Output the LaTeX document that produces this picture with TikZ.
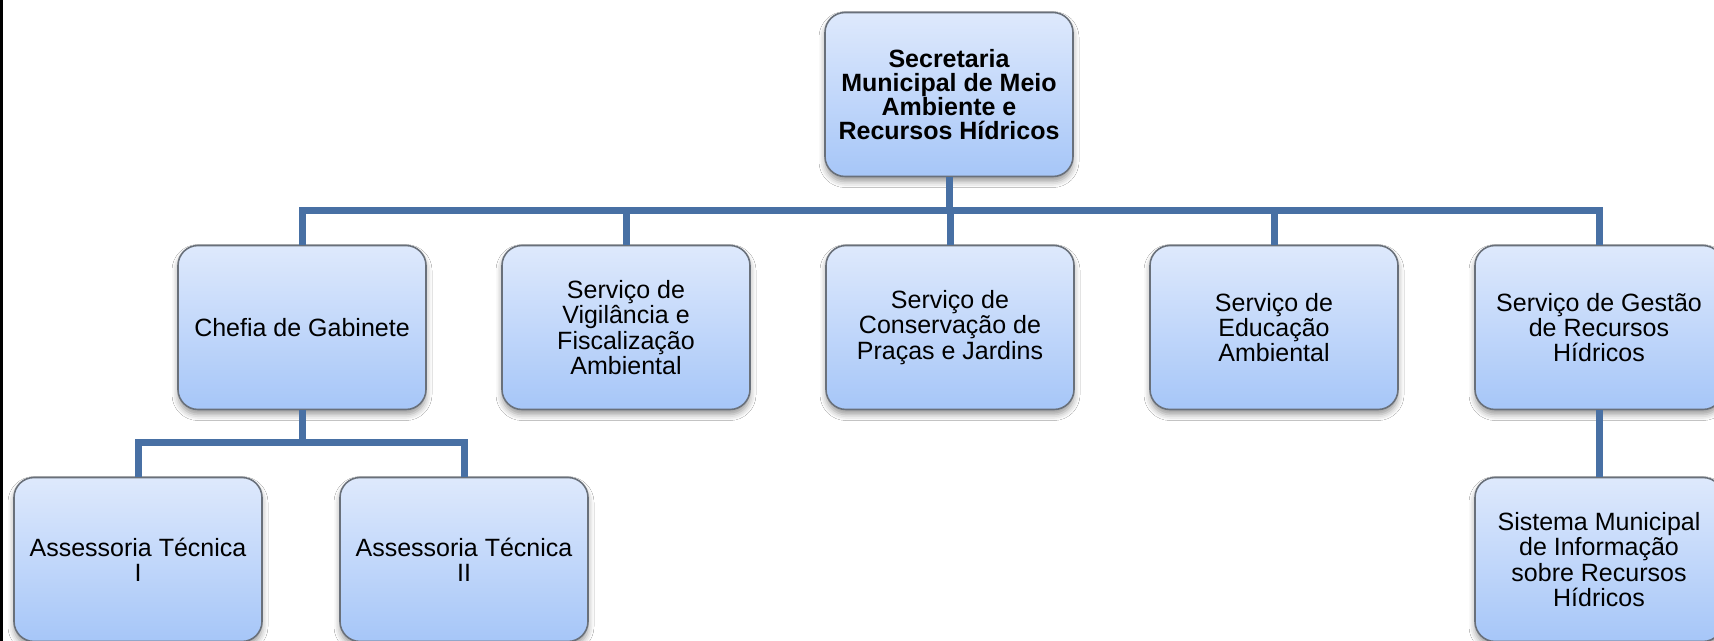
\documentclass[tikz,border=0pt]{standalone}
\usepackage{fontspec}
\setmainfont{Liberation Sans}
\usetikzlibrary{shadows.blur}
\definecolor{linkblue}{RGB}{72,112,164}
\definecolor{boxgray}{RGB}{105,112,122}
\definecolor{fillTop}{RGB}{222,233,252}
\definecolor{fillBot}{RGB}{166,198,248}
\begin{document}
\begin{tikzpicture}[x=0.5pt,y=-0.5pt,
  orgbox/.style={draw=boxgray, line width=0.8pt, rounded corners=10pt,
    top color=fillTop, bottom color=fillBot,
    minimum width=124pt, minimum height=82pt, align=center, inner sep=0pt,
    font=\fontsize{12.5}{12.6}\selectfont,
    blur shadow={shadow xshift=0pt, shadow yshift=-2.5pt, shadow blur radius=3pt, shadow opacity=40}},
  conn/.style={draw=linkblue, line width=3.5pt, line join=miter}]
\useasboundingbox (0,0) rectangle (1714,641);
\clip (0,0) rectangle (1714,641);
\fill[white] (0,0) rectangle (1714,641);
\fill[black] (0,0) rectangle (2.5,641);
\coordinate (busA) at (0,211);
\coordinate (busB) at (0,443);
% connectors first (behind boxes)
\node[orgbox, font=\fontsize{12.5}{11.9}\selectfont\bfseries] (sec) at (949,94.5)
  {Secretaria\\Municipal de Meio\\Ambiente e\\Recursos Hídricos};
\node[orgbox] (chefia) at (302,327.5) {Chefia de Gabinete};
\node[orgbox] (svf) at (626,327.5) {Serviço de\\Vigilância e\\Fiscalização\\Ambiental};
\node[orgbox] (scp) at (950,327.5) {Serviço de\\Conservação de\\Praças e Jardins};
\node[orgbox] (sea) at (1274,327.5) {Serviço de\\Educação\\Ambiental};
\node[orgbox] (sgrh) at (1599,327.5) {Serviço de Gestão\\de Recursos\\Hídricos};
\node[orgbox] (at1) at (138,559.5) {Assessoria Técnica\\I};
\node[orgbox] (at2) at (464,559.5) {Assessoria Técnica\\II};
\node[orgbox] (sis) at (1599,559.5) {Sistema Municipal\\de Informação\\sobre Recursos\\Hídricos};
% connectors
\draw[conn] (sec.south) -- (sec.south |- busA);
\draw[conn] (chefia.north) -- (chefia.north |- busA) -- (sgrh.north |- busA) -- (sgrh.north);
\draw[conn] (svf.north |- busA) -- (svf.north);
\draw[conn] (scp.north |- busA) -- (scp.north);
\draw[conn] (sea.north |- busA) -- (sea.north);
\draw[conn] (chefia.south) -- (chefia.south |- busB);
\draw[conn] (at1.north) -- (at1.north |- busB) -- (at2.north |- busB) -- (at2.north);
\draw[conn] (sgrh.south) -- (sis.north);
\end{tikzpicture}
\end{document}
